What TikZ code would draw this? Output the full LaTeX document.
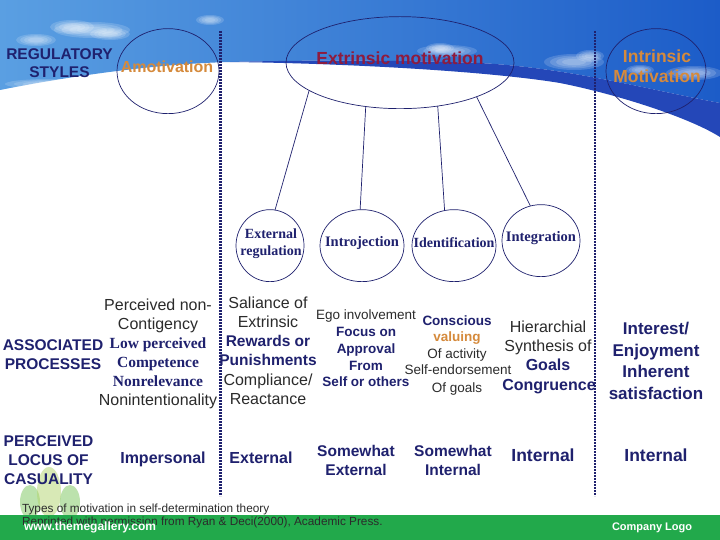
\documentclass[tikz,border=0pt]{standalone}
\usepackage{fontspec}
\setmainfont{Liberation Sans}
\newfontfamily\serifb{Liberation Serif}
\usetikzlibrary{shapes.geometric}
\definecolor{navy}{HTML}{1F216E}
\definecolor{txtgray}{HTML}{2B2B2B}
\definecolor{orng}{HTML}{D58A3C}
\definecolor{wine}{HTML}{8E1B3E}
\definecolor{bandblue}{HTML}{2447B8}
\definecolor{skyL}{HTML}{5A9FE2}
\definecolor{skyR}{HTML}{1C5CC8}
\definecolor{grn}{HTML}{22A94B}
\definecolor{leafA}{HTML}{6CBF4A}
\definecolor{leafB}{HTML}{B2D56E}
\begin{document}
\begin{tikzpicture}[x=1pt,y=-1pt,
  every node/.style={inner sep=0pt, outer sep=0pt, align=center, anchor=mid},
  ell/.style={draw=navy, line width=0.7pt, ellipse, inner sep=0pt},
  conn/.style={draw=navy, line width=0.7pt},
  sepline/.style={draw=navy, line width=2.8pt, dash pattern=on 1.8pt off 1.2pt},
  hdr/.style={text=navy, font=\bfseries\fontsize{15.5}{17}\selectfont},
  reg/.style={text=txtgray, font=\fontsize{16}{18}\selectfont},
  regs/.style={text=txtgray, font=\fontsize{13.5}{15}\selectfont},
  nb/.style={text=navy, font=\bfseries\fontsize{15.5}{17}\selectfont},
  nbm/.style={text=navy, font=\bfseries\fontsize{16}{18}\selectfont},
  nbl/.style={text=navy, font=\bfseries\fontsize{17}{19}\selectfont},
  nbs/.style={text=navy, font=\bfseries\fontsize{13.5}{15}\selectfont},
  sbf/.style={text=navy, font=\serifb\bfseries\fontsize{15.5}{17}\selectfont},
  circtxt/.style={text=navy, font=\serifb\bfseries\fontsize{14}{16}\selectfont},
  circtxtl/.style={text=navy, font=\serifb\bfseries\fontsize{14.5}{16}\selectfont},
  orb/.style={text=orng, font=\bfseries\fontsize{16}{18}\selectfont},
  orbl/.style={text=orng, font=\bfseries\fontsize{17.5}{19}\selectfont},
  orbs/.style={text=orng, font=\bfseries\fontsize{13.5}{15}\selectfont},
  foot/.style={text=txtgray, font=\fontsize{11.8}{13}\selectfont},
  wfoot/.style={text=white, font=\bfseries\fontsize{12}{13}\selectfont},
  cloud/.style={fill=white, opacity=0.16}
]
\useasboundingbox (0,0) rectangle (720,540);
% background
\fill[white] (0,0) rectangle (720,540);
\shade[left color=skyL, right color=skyR]
  (0,0) -- (720,0) -- (720,103)
  .. controls (650,90) and (570,68) .. (480,63)
  .. controls (400,60) and (300,60) .. (230,62)
  .. controls (150,64) and (60,78) .. (0,90) -- cycle;
% soft clouds
\foreach \cx/\cy/\ra/\rb in {92/30/38/8, 72/27/22/7, 110/34/20/6, 36/40/20/6, 210/20/14/5,
  447/51/30/6, 440/48/14/5, 574/62/30/8, 590/56/14/6, 694/73/28/7, 50/84/45/5, 640/70/14/5}{
  \foreach \s in {1.0,0.8,0.6,0.4}{
    \fill[cloud] (\cx,\cy) ellipse [x radius=\s*\ra, y radius=\s*\rb];
  }
}
% band
\fill[bandblue] (230,62) .. controls (300,60) and (400,60) .. (480,63)
  .. controls (570,68) and (650,90) .. (720,103) -- (720,137)
  .. controls (690,118) and (620,95) .. (560,83)
  .. controls (480,70) and (330,63) .. (230,62) -- cycle;
% faint logo leaves
\fill[leafA, opacity=0.45] (30,502) ellipse [x radius=10, y radius=17];
\fill[leafB, opacity=0.5] (49,492) ellipse [x radius=12, y radius=25];
\fill[leafA, opacity=0.45] (70,502) ellipse [x radius=10, y radius=17];
% footer band
\fill[grn] (0,515) rectangle (720,540);

% separators
\coordinate (s1t) at (220.5,31);
\coordinate (s1b) at (220.5,496);
\coordinate (s2t) at (595,31);
\coordinate (s2b) at (595,496);
\draw[sepline] (s1t) -- (s1b);
\draw[sepline] (s2t) -- (s2b);

% header
\node[hdr] (rs1) at (59.5,57) {REGULATORY};
\node[hdr] (rs2) at (59.5,75) {STYLES};

% ellipses
\node[ell, minimum width=102pt, minimum height=85pt] (amo) at (168,68.5) {};
\node[ell, minimum width=228pt, minimum height=92pt] (ext) at (400,60) {};
\node[ell, minimum width=100pt, minimum height=85pt] (intr) at (656,68.5) {};
\node[ell, minimum width=68pt, minimum height=72pt] (er) at (270,243) {};
\node[ell, minimum width=84pt, minimum height=72pt] (ij) at (362,243) {};
\node[ell, minimum width=84pt, minimum height=72pt] (idf) at (454,243) {};
\node[ell, minimum width=78pt, minimum height=72pt] (itg) at (541,238) {};

\node[orb] (amot) at (167,70) {Amotivation};
\node[text=wine, font=\bfseries\fontsize{17.5}{19}\selectfont] (extt) at (400,62) {Extrinsic motivation};
\node[orbl] (intt1) at (657,60) {Intrinsic};
\node[orbl] (intt2) at (657,80) {Motivation};

\node[circtxt] (ert1) at (271,236) {External};
\node[circtxt] (ert2) at (271,253) {regulation};
\node[circtxtl] (ijt) at (362,244) {Introjection};
\node[circtxt] (idft) at (454,245) {Identification};
\node[circtxtl] (itgt) at (541,239) {Integration};

% connectors
\draw[conn] (ext.197.5) -- (er.82);
\draw[conn] (ext.232.3) -- (ij.93);
\draw[conn] (ext.311.6) -- (idf.105);
\draw[conn] (ext.336.7) -- (itg.107);

% associated processes
\node[hdr] (ap1) at (53,348) {ASSOCIATED};
\node[hdr] (ap2) at (53,367) {PROCESSES};

\node[reg] (c2a) at (158,308) {Perceived non-};
\node[reg] (c2b) at (158,327) {Contigency};
\node[sbf] (c2c) at (158,346) {Low perceived};
\node[sbf] (c2d) at (158,365) {Competence};
\node[sbf] (c2e) at (158,384) {Nonrelevance};
\node[reg] (c2f) at (158,403) {Nonintentionality};

\node[reg] (c3a) at (268,306) {Saliance of};
\node[reg] (c3b) at (268,325) {Extrinsic};
\node[nb] (c3c) at (268,344) {Rewards or};
\node[nb] (c3d) at (268,363) {Punishments};
\node[reg] (c3e) at (268,383) {Compliance/};
\node[reg] (c3f) at (268,402) {Reactance};

\node[regs] (c4a) at (366,317) {Ego involvement};
\node[nbs] (c4b) at (366,334) {Focus on};
\node[nbs] (c4c) at (366,351) {Approval};
\node[nbs] (c4d) at (366,368) {From};
\node[nbs] (c4e) at (366,384) {Self or others};

\node[nbs] (c5a) at (457,323) {Conscious};
\node[orbs] (c5b) at (457,339) {valuing};
\node[regs] (c5c) at (457,356) {Of activity};
\node[regs] (c5d) at (458,372) {Self-endorsement};
\node[regs] (c5e) at (457,390) {Of goals};

\node[reg] (c6a) at (548,330) {Hierarchial};
\node[reg] (c6b) at (548,349) {Synthesis of};
\node[nbm] (c6c) at (548,368) {Goals};
\node[nbm] (c6d) at (549,388) {Congruence};

\node[nbl] (c7a) at (656,332) {Interest/};
\node[nbl] (c7b) at (656,354) {Enjoyment};
\node[nbl] (c7c) at (656,375) {Inherent};
\node[nbl] (c7d) at (656,397) {satisfaction};

% perceived locus
\node[hdr] (pl1) at (48.5,444) {PERCEIVED};
\node[hdr] (pl2) at (48.5,463) {LOCUS OF};
\node[hdr] (pl3) at (48.5,482) {CASUALITY};
\node[nbm] (r2) at (163,461) {Impersonal};
\node[nbm] (r3) at (261,461) {External};
\node[nb] (r4a) at (356,454) {Somewhat};
\node[nb] (r4b) at (356,473) {External};
\node[nb] (r5a) at (453,454) {Somewhat};
\node[nb] (r5b) at (453,473) {Internal};
\node[text=navy, font=\bfseries\fontsize{17.5}{19}\selectfont] (r6) at (543,459) {Internal};
\node[text=navy, font=\bfseries\fontsize{17.5}{19}\selectfont] (r7) at (656,459) {Internal};

% footer
\node[foot, anchor=mid west] (ft1) at (22,510) {Types of motivation in self-determination theory};
\node[foot, anchor=mid west] (ft2) at (22,523) {Reprinted with permission from Ryan \& Deci(2000), Academic Press.};
\node[wfoot, anchor=mid west] (web) at (24,528) {www.themegallery.com};
\node[text=white, font=\bfseries\fontsize{11}{12}\selectfont, anchor=mid west] (logo) at (612,528) {Company Logo};
\end{tikzpicture}
\end{document}
